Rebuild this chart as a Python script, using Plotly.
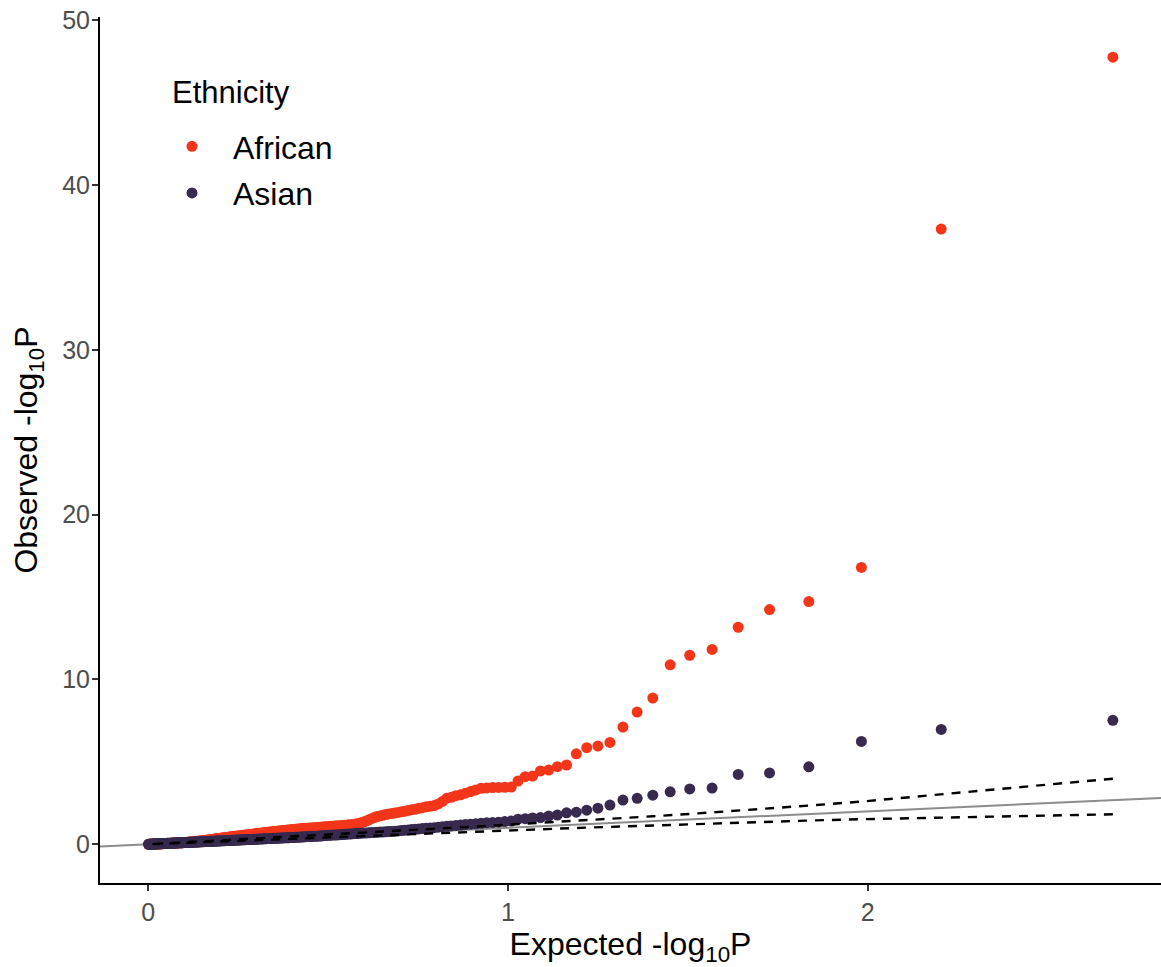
import numpy as np
import plotly.graph_objects as go

# ---------------- data ----------------
n_snps = 240  # number of tested variants per ethnicity (ranks 1..240)

# observed -log10 P, sorted from most to least significant (rank 1 .. 240)
african_obs = [
    47.76, 37.33, 16.80, 14.73, 14.24, 13.17, 11.82, 11.47, 10.89, 8.87,
    8.02, 7.11, 6.18, 5.96, 5.86, 5.49, 4.81, 4.71, 4.50, 4.45,
    4.14, 4.10, 3.84, 3.47, 3.46,
    3.45, 3.44, 3.42, 3.40,
    3.30, 3.20, 3.10, 3.00, 2.95,
    2.85, 2.80, 2.60, 2.45, 2.35,
    2.30, 2.28, 2.22, 2.18, 2.12,
    2.10, 2.05, 2.00, 1.97, 1.93,
    1.90, 1.87, 1.84, 1.80, 1.76,
    1.72, 1.68, 1.62, 1.55, 1.48,
    1.41, 1.35, 1.30, 1.26, 1.23,
    1.21, 1.19, 1.18, 1.16, 1.15,
    1.14, 1.13, 1.12, 1.11, 1.10, 1.09, 1.08, 1.07, 1.06, 1.05,
    1.04, 1.03, 1.02, 1.01, 1.00, 0.99, 0.98, 0.975, 0.97, 0.96,
    0.95, 0.94, 0.93, 0.92, 0.91, 0.90, 0.89, 0.88, 0.87, 0.86,
    0.85, 0.84, 0.83, 0.82, 0.81, 0.80, 0.79, 0.78, 0.77, 0.76,
    0.75, 0.74, 0.73, 0.72, 0.71, 0.70, 0.69, 0.68, 0.67, 0.66,
    0.65, 0.64, 0.63, 0.62, 0.61, 0.60, 0.59, 0.58, 0.57, 0.56,
    0.55, 0.54, 0.53, 0.52, 0.51, 0.50, 0.495, 0.49, 0.485, 0.48,
    0.47, 0.46, 0.45, 0.44, 0.43, 0.42, 0.41, 0.40, 0.395, 0.39,
    0.38, 0.37, 0.36, 0.35, 0.345, 0.34, 0.33, 0.32, 0.31, 0.30,
    0.29, 0.28, 0.275, 0.27, 0.26, 0.25, 0.245, 0.24, 0.23, 0.22,
    0.215, 0.21, 0.205, 0.20, 0.19, 0.185, 0.18, 0.175, 0.17, 0.165,
    0.16, 0.155, 0.15, 0.145, 0.14, 0.135, 0.13, 0.125, 0.12, 0.115,
    0.11, 0.105, 0.10, 0.098, 0.095, 0.092, 0.09, 0.087, 0.085, 0.082,
    0.08, 0.077, 0.074, 0.071, 0.068, 0.065, 0.062, 0.06, 0.058, 0.056,
    0.054, 0.052, 0.05, 0.048, 0.046, 0.044, 0.042, 0.04, 0.038, 0.036,
    0.034, 0.032, 0.03, 0.028, 0.026, 0.024, 0.022, 0.02, 0.018, 0.016,
    0.014, 0.012, 0.011, 0.01, 0.009, 0.008, 0.006, 0.005, 0.004, 0.003, 0.002,
]

asian_obs = [
    7.52, 6.97, 6.24, 4.70, 4.33, 4.24, 3.41, 3.36, 3.18, 2.98,
    2.79, 2.68, 2.38, 2.19, 2.07, 1.95, 1.91, 1.77, 1.71, 1.62,
    1.60, 1.55, 1.52, 1.41, 1.38,
    1.34, 1.32, 1.30, 1.27,
    1.24, 1.22, 1.20, 1.17, 1.14,
    1.11, 1.09, 1.07, 1.04, 1.01,
    0.99, 0.97, 0.95, 0.93, 0.91,
    0.89, 0.87, 0.85, 0.83, 0.81,
    0.79, 0.78, 0.77, 0.76, 0.75,
    0.74, 0.73, 0.72, 0.71, 0.70,
    0.69, 0.68, 0.67, 0.66, 0.65,
    0.64, 0.63, 0.62, 0.61, 0.60,
    0.59, 0.58, 0.57, 0.565, 0.56, 0.55, 0.545, 0.54, 0.53, 0.52,
    0.50, 0.495, 0.49, 0.485, 0.48, 0.475, 0.47, 0.465, 0.46, 0.45,
    0.44, 0.435, 0.43, 0.425, 0.42, 0.415, 0.41, 0.405, 0.40, 0.395,
    0.393, 0.389, 0.385, 0.380, 0.376, 0.372, 0.368, 0.364, 0.360, 0.356,
    0.351, 0.347, 0.343, 0.339, 0.335, 0.331, 0.327, 0.323, 0.320, 0.316,
    0.312, 0.308, 0.305, 0.301, 0.297, 0.294, 0.290, 0.286, 0.283, 0.279,
    0.276, 0.273, 0.270, 0.266, 0.263, 0.259, 0.256, 0.253, 0.249, 0.246,
    0.243, 0.240, 0.237, 0.234, 0.231, 0.228, 0.224, 0.221, 0.218, 0.215,
    0.212, 0.209, 0.206, 0.203, 0.200, 0.197, 0.194, 0.191, 0.188, 0.185,
    0.182, 0.179, 0.177, 0.174, 0.171, 0.169, 0.166, 0.163, 0.161, 0.158,
    0.155, 0.153, 0.150, 0.148, 0.145, 0.143, 0.140, 0.137, 0.135, 0.132,
    0.130, 0.128, 0.125, 0.123, 0.121, 0.119, 0.117, 0.114, 0.112, 0.110,
    0.106, 0.104, 0.102, 0.100, 0.097, 0.095, 0.093, 0.091, 0.089, 0.086,
    0.082, 0.080, 0.078, 0.076, 0.074, 0.072, 0.070, 0.068, 0.066, 0.064,
    0.061, 0.059, 0.057, 0.055, 0.053, 0.051, 0.049, 0.047, 0.045, 0.043,
    0.040, 0.038, 0.036, 0.034, 0.032, 0.030, 0.028, 0.026, 0.024, 0.022,
    0.020, 0.018, 0.016, 0.014, 0.012, 0.010, 0.008, 0.006, 0.004, 0.003, 0.001,
]

# 95% confidence band (dashed lines), read at selected ranks
ci_rank = [1, 2, 3, 4, 5, 6, 8, 10, 13, 16, 20, 25, 32, 40, 50, 65, 80, 100, 130, 160, 200, 220, 240]
ci_upper = [3.98, 3.00, 2.59, 2.35, 2.17, 2.04, 1.84, 1.70, 1.54, 1.42, 1.30, 1.17, 1.04, 0.93,
            0.81, 0.68, 0.57, 0.46, 0.33, 0.22, 0.106, 0.057, 0.0067]
ci_lower = [1.82, 1.64, 1.52, 1.44, 1.37, 1.32, 1.22, 1.15, 1.06, 0.99, 0.91, 0.83, 0.74, 0.655,
            0.57, 0.47, 0.40, 0.31, 0.21, 0.14, 0.057, 0.023, 0.00005]

groups = ["African", "Asian"]
colors = {"African": "#F3361A", "Asian": "#372A4E"}

# ---------------- expected quantiles (ppoints) ----------------
rank = np.arange(1, n_snps + 1)
expected = -np.log10((rank - 0.5) / n_snps)
ci_expected = -np.log10((np.array(ci_rank) - 0.5) / n_snps)

x_range = [-0.134, 2.815]
y_range = [-2.35, 50.2]

FONT = "Liberation Sans, Arial, sans-serif"

fig = go.Figure()

# y = x reference line
fig.add_shape(type="line", xref="x", yref="y",
              x0=x_range[0], y0=x_range[0], x1=x_range[1], y1=x_range[1],
              line=dict(color="#8C8C8C", width=2), layer="below")

for g, obs in zip(groups, [african_obs, asian_obs]):
    fig.add_trace(go.Scatter(
        x=expected, y=obs, mode="markers", name=g, legendgroup=g,
        marker=dict(color=colors[g], size=11, line=dict(width=0)),
    ))

for band in [ci_upper, ci_lower]:
    fig.add_trace(go.Scatter(
        x=ci_expected, y=band, mode="lines", showlegend=False,
        line=dict(color="black", width=2.4, dash="9px,8px"),
        hoverinfo="skip",
    ))

axis_common = dict(
    showgrid=False, zeroline=False, showline=True, linecolor="black", linewidth=2,
    ticks="outside", ticklen=6, tickwidth=1.5, tickcolor="#333333",
    tickfont=dict(family=FONT, size=25, color="#4D4D4D"),
    ticklabeloverflow="allow",
    mirror=False,
)

W, H = 1161, 967
fig.update_layout(
    width=W, height=H,
    margin=dict(l=100, r=0, t=17, b=84, autoexpand=False),
    paper_bgcolor="white", plot_bgcolor="white",
    font=dict(family=FONT, color="black"),
    xaxis=dict(range=x_range, tickvals=[0, 1, 2], **axis_common,
               title=dict(text="Expected -log<sub>10</sub>P",
                          font=dict(family=FONT, size=32, color="black"), standoff=6)),
    yaxis=dict(range=y_range, tickvals=[0, 10, 20, 30, 40, 50], **axis_common,
               ticklabelstandoff=-3,
               title=dict(text="Observed -log<sub>10</sub>P",
                          font=dict(family=FONT, size=32, color="black"), standoff=15)),
    legend=dict(
        x=(151 - 100) / 1061, y=(883 - 119) / 866, xanchor="left", yanchor="top",
        bgcolor="rgba(0,0,0,0)",
        font=dict(family=FONT, size=32, color="black"),
        itemwidth=72, tracegroupgap=2, traceorder="grouped",
    ),
    annotations=[dict(
        text="Ethnicity", xref="paper", yref="paper",
        x=(170 - 100) / 1061, y=(883 - 93) / 866, xanchor="left", yanchor="middle",
        showarrow=False, font=dict(family=FONT, size=31, color="black"),
    )],
    showlegend=True,
)

# remove the default 8px page margin so the figure fills the window exactly
fig.write_html("out.html",
               config={"displayModeBar": False},
               post_script="document.body.style.margin='0';document.body.style.overflow='hidden';")
